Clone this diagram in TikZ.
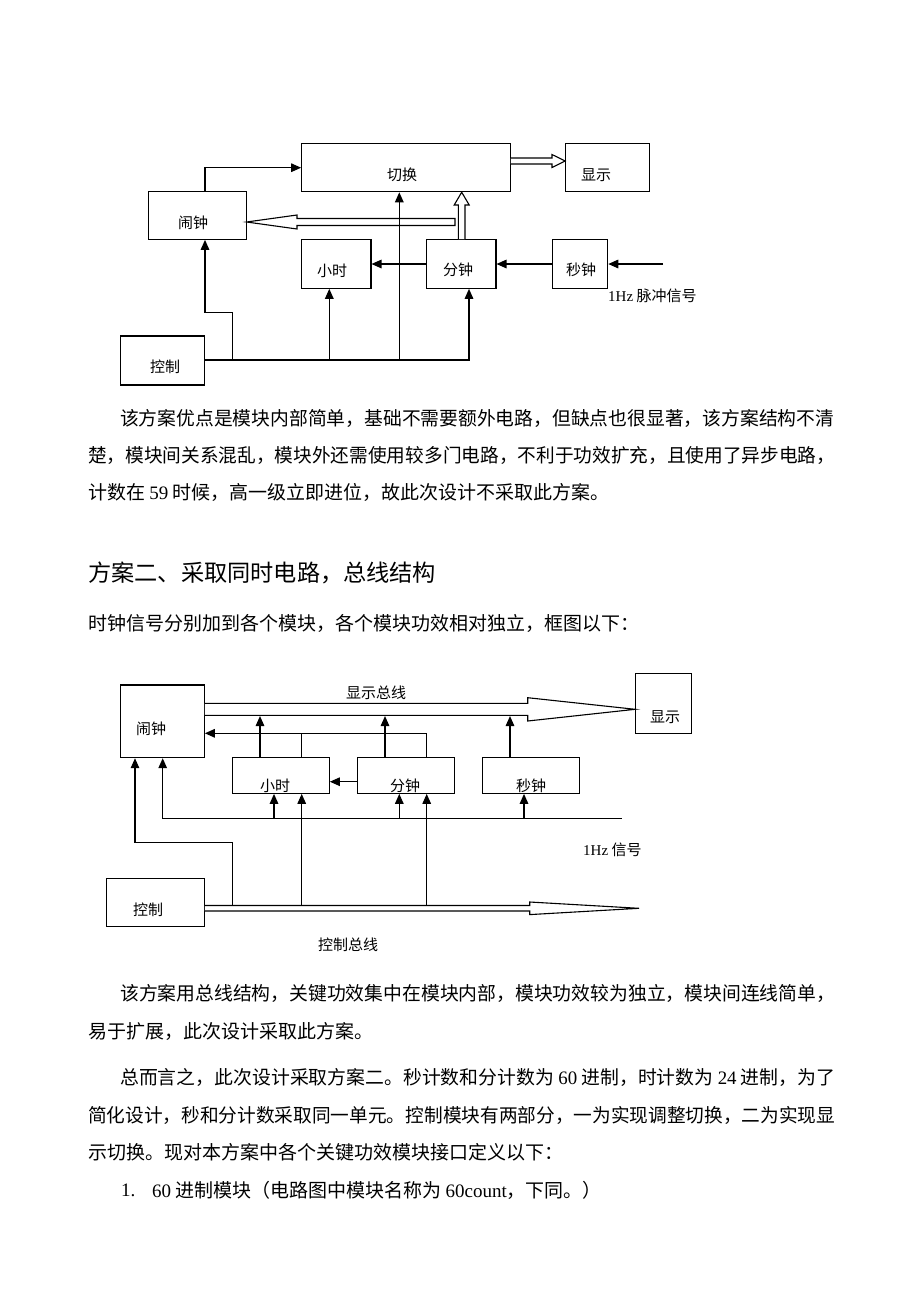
\documentclass[tikz,border=0pt]{standalone}
\usepackage{fontspec}
\setmainfont{Noto Sans CJK SC}
\newfontfamily\latin{Liberation Serif}
\usetikzlibrary{arrows.meta,calc}
\tikzset{
  blk/.style 2 args={draw, line width=1.1pt, inner sep=0pt, minimum width=#1, minimum height=#2},
  lbl/.style={inner sep=0pt, font=\fontsize{15pt}{15pt}\selectfont},
  wire/.style={line width=1.3pt},
  arr/.style={line width=1.4pt, -{Triangle[length=10pt,width=8.5pt]}},
  hollow/.style={draw, line width=1.1pt, fill=white, line join=miter},
  para/.style={inner sep=0pt, anchor=west, font=\fontsize{19pt}{19pt}\selectfont},
}
\newcommand{\fitto}[2]{\resizebox{#1}{\height}{#2}}

\begin{document}
\begin{tikzpicture}[x=1pt,y=-1pt]
  \fill[white] (0,0) rectangle (920,1302);
  \useasboundingbox (0,0) rectangle (920,1302);

  % scheme one
  \node[blk={208.6pt}{48.4pt}] (qiehuan) at (406,167.5) {};
  \node[blk={83.6pt}{48.4pt}] (xianshiA) at (607.5,167.5) {};
  \node[blk={97.7pt}{47.6pt}] (naozhongA) at (197.2,215.5) {};
  \node[blk={69.3pt}{48.5pt}] (xiaoshiA) at (336.3,264) {};
  \node[blk={69.3pt}{48.5pt}] (fenzhongA) at (461.3,264) {};
  \node[blk={55.4pt}{48.5pt}] (miaozhongA) at (580,264) {};
  \node[blk={83.6pt}{49pt}] (kongzhiA) at (162.5,360.5) {};
  \node[lbl] (qiehuan-t) at (402,175) {切换};
  \node[lbl] (xianshiA-t) at (596,175) {显示};
  \node[lbl] (naozhongA-t) at (193,223) {闹钟};
  \node[lbl] (xiaoshiA-t) at (332,271) {小时};
  \node[lbl] (fenzhongA-t) at (458,270) {分钟};
  \node[lbl] (miaozhongA-t) at (581,270) {秒钟};
  \node[lbl] (kongzhiA-t) at (165,367) {控制};
  \node[lbl, anchor=west] (pulse) at (608,296) {{\latin 1Hz} 脉冲信号};
  \coordinate (pulsein) at (663,264);

  \draw[arr] (naozhongA.north -| 205,0) -- (205,167.7) -- (qiehuan.west |- 0,167.7);
  \draw[arr] (kongzhiA.east |- 0,360) -- (469,360) -- (fenzhongA.south -| 469,0);
  \draw[arr] (232.3,360) -- (232.3,312.3) -- (205,312.3) -- (naozhongA.south -| 205,0);
  \draw[arr] (329.3,360) -- (xiaoshiA.south -| 329.3,0);
  \draw[arr] (399.3,360) -- (qiehuan.south -| 399.3,0);
  \draw[arr] (fenzhongA.west) -- (xiaoshiA.east);
  \draw[arr] (miaozhongA.west) -- (fenzhongA.east);
  \draw[arr] (pulsein) -- (miaozhongA.east);
  \draw[hollow] (qiehuan.east |- 0,158) -- (552,158) -- (552,154.5) -- (xianshiA.west |- 0,161)
    -- (552,167.5) -- (552,164) -- (qiehuan.east |- 0,164);
  \draw[hollow] (fenzhongA.north -| 458.3,0) -- (458.3,205) -- (454.2,205) -- (qiehuan.south -| 461.7,0)
    -- (469.2,205) -- (465,205) -- (fenzhongA.north -| 465,0);
  \draw[hollow] (455,218.5) -- (297,218.5) -- (297,215) -- (naozhongA.east |- 0,222)
    -- (297,229) -- (297,225.5) -- (455,225.5) -- cycle;
  \draw[wire] (399.3,214) -- (399.3,230);

  % text
  \node[para] (p1a) at (120,418) {\fitto{714pt}{该方案优点是模块内部简单，基础不需要额外电路，但缺点也很显著，该方案结构不清}};
  \node[para] (p1b) at (88,455) {\fitto{747pt}{楚，模块间关系混乱，模块外还需使用较多门电路，不利于功效扩充，且使用了异步电路，}};
  \node[para] (p1c) at (88,492) {计数在 {\latin 59} 时候，高一级立即进位，故此次设计不采取此方案。};
  \node[para, font=\fontsize{23.2pt}{23.2pt}\selectfont] (title2) at (88,573) {方案二、采取同时电路，总线结构};
  \node[para] (cap2) at (88,623) {时钟信号分别加到各个模块，各个模块功效相对独立，框图以下：};

  % scheme two
  \node[blk={83.6pt}{72.7pt}] (naozhongB) at (162.5,721.3) {};
  \node[blk={56pt}{60pt}] (xianshiB) at (663.7,703.3) {};
  \node[blk={97pt}{35.6pt}] (xiaoshiB) at (280.8,775.5) {};
  \node[blk={97pt}{35.6pt}] (fenzhongB) at (406,775.5) {};
  \node[blk={97pt}{35.6pt}] (miaozhongB) at (531.3,775.5) {};
  \node[blk={97.6pt}{48.4pt}] (kongzhiB) at (155.5,902.5) {};
  \node[lbl] (naozhongB-t) at (151,729) {闹钟};
  \node[lbl] (xianshiB-t) at (665,717) {显示};
  \node[lbl] (xiaoshiB-t) at (275,786) {小时};
  \node[lbl] (fenzhongB-t) at (405,786) {分钟};
  \node[lbl] (miaozhongB-t) at (531,786) {秒钟};
  \node[lbl] (kongzhiB-t) at (148,910) {控制};
  \node[lbl] (dispbus) at (376,693) {显示总线};
  \node[lbl] (ctrlbus) at (348,945) {控制总线};
  \node[lbl, anchor=west] (clk) at (583,850) {{\latin 1Hz} 信号};
  \coordinate (clkend) at (621.7,818.3);
  \coordinate (ctrlend) at (639,908.3);

  \draw[hollow] (naozhongB.east |- 0,703.3) -- (527.7,703.3) -- (527.7,697.7) -- (xianshiB.west |- 0,709.3)
    -- (527.7,721) -- (527.7,715.3) -- (naozhongB.east |- 0,715.3);
  \draw[hollow] (kongzhiB.east |- 0,905.5) -- (529.7,905.5) -- (529.7,902) -- (ctrlend)
    -- (529.7,914.6) -- (529.7,911) -- (kongzhiB.east |- 0,911);
  \foreach \x/\n in {260/xiaoshiB,385/fenzhongB,510/miaozhongB}
    \draw[arr] (\n.north -| \x,0) -- (\x,716);
  \draw[arr] (fenzhongB.north -| 426.7,0) -- (426.7,733.3) -- (naozhongB.east |- 0,733.3);
  \draw[wire] (xiaoshiB.north -| 301.7,0) -- (301.7,733.3);
  \draw[arr] (fenzhongB.west |- 0,781.7) -- (xiaoshiB.east |- 0,781.7);
  \draw[arr] (clkend) -- (162.7,818.3) -- (naozhongB.south -| 162.7,0);
  \foreach \x/\n in {274/xiaoshiB,399.3/fenzhongB,524/miaozhongB}
    \draw[arr] (\x,818.3) -- (\n.south -| \x,0);
  \draw[arr] (232.7,905.5) -- (232.7,842.3) -- (135,842.3) -- (naozhongB.south -| 135,0);
  \draw[arr] (301.7,905.5) -- (xiaoshiB.south -| 301.7,0);
  \draw[arr] (426.7,905.5) -- (fenzhongB.south -| 426.7,0);

  % text
  \node[para] (p2a) at (120,993) {\fitto{715pt}{该方案用总线结构，关键功效集中在模块内部，模块功效较为独立，模块间连线简单，}};
  \node[para] (p2b) at (88,1031) {易于扩展，此次设计采取此方案。};
  \node[para] (p3a) at (120,1077) {\fitto{715pt}{总而言之，此次设计采取方案二。秒计数和分计数为 {\latin 60} 进制，时计数为 {\latin 24} 进制，为了}};
  \node[para] (p3b) at (88,1115) {\fitto{747pt}{简化设计，秒和分计数采取同一单元。控制模块有两部分，一为实现调整切换，二为实现显}};
  \node[para] (p3c) at (88,1152) {示切换。现对本方案中各个关键功效模块接口定义以下：};
  \node[para] (item1n) at (121,1190) {\latin 1.};
  \node[para] (item1) at (152,1190) {{\latin 60} 进制模块（电路图中模块名称为 {\latin 60count}，下同。）};
\end{tikzpicture}
\end{document}
